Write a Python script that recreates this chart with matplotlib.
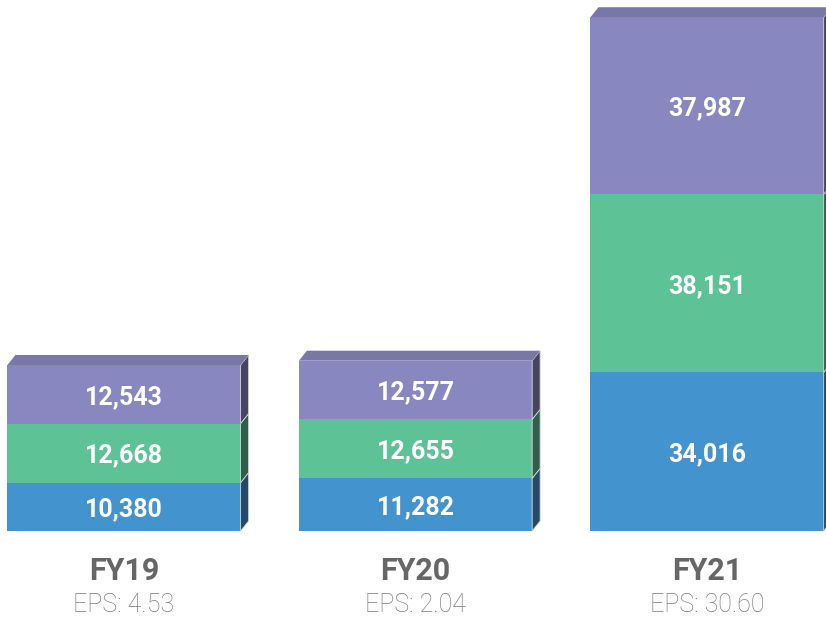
import numpy as np
import matplotlib.pyplot as plt
from matplotlib.patches import Polygon

plt.rcParams['font.family'] = ['Roboto', 'DejaVu Sans']

# data
years = ['FY19', 'FY20', 'FY21']
eps = ['EPS: 4.53', 'EPS: 2.04', 'EPS: 30.60']
seg_bottom = [10380, 11282, 34016]
seg_middle = [12668, 12655, 38151]
seg_top = [12543, 12577, 37987]

# colours: front, side
front_cols = ['#4393ce', '#5ec297', '#8887c0']
side_cols = ['#234a68', '#2d5f4a', '#46455f']
top_col = '#7877a7'

WIDTH = 0.8
DX = 0.0274     # depth in x units
DY = 2144       # depth in value units

fig = plt.figure(figsize=(8.26, 6.17), dpi=100)
ax = fig.add_axes([0, 0, 1, 1])
ax.set_xlim(-0.4254, 2.408)
ax.set_ylim(-18439, 113850)
ax.axis('off')

x = np.arange(len(years))
segs = [seg_bottom, seg_middle, seg_top]
base = np.zeros(len(years))
for k, vals in enumerate(segs):
    vals = np.array(vals, dtype=float)
    ax.bar(x, vals, WIDTH, bottom=base, color=front_cols[k], linewidth=0)
    for i in range(len(x)):
        xr = x[i] + WIDTH / 2
        y0 = base[i]
        y1 = base[i] + vals[i]
        side = Polygon([(xr, y0), (xr + DX, y0 + DY), (xr + DX, y1 + DY), (xr, y1)],
                       closed=True, facecolor=side_cols[k], edgecolor='#d8d8d8', linewidth=0.6)
        ax.add_patch(side)
        ax.text(x[i], (y0 + y1) / 2, f'{int(vals[i]):,}', ha='center', va='center_baseline',
                color='white', fontsize=18, fontweight='bold')
    base = base + vals

# top faces
for i in range(len(x)):
    xl = x[i] - WIDTH / 2
    xr = x[i] + WIDTH / 2
    t = base[i]
    ax.add_patch(Polygon([(xl, t), (xl + DX, t + DY), (xr + DX, t + DY), (xr, t)],
                         closed=True, facecolor=top_col, edgecolor='none'))

# category labels
for i in range(len(x)):
    ax.annotate(years[i], (x[i], 0), xytext=(0, -40), textcoords='offset pixels',
                ha='center', va='center', fontsize=22, fontweight='bold', color='#666666')
    ax.annotate(eps[i], (x[i], 0), xytext=(0, -74), textcoords='offset pixels',
                ha='center', va='center', fontsize=18, fontweight='light', color='#7a7a7a')

fig.savefig('out.png', dpi=100)
